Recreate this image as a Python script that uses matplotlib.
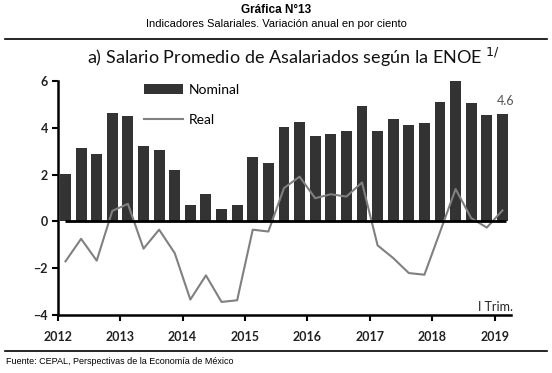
import matplotlib.pyplot as plt
from matplotlib.lines import Line2D
import numpy as np

years = ['2012', '2013', '2014', '2015', '2016', '2017', '2018', '2019']

# variacion anual trimestral, 2012 I - 2019 I
nominal = [2.04, 3.12, 2.87, 4.61,
           4.50, 3.22, 3.05, 2.18,
           0.68, 1.19, 0.55, 0.68,
           2.74, 2.50, 4.04, 4.24,
           3.66, 3.73, 3.87, 4.92,
           3.87, 4.37, 4.11, 4.18,
           5.11, 6.03, 5.05, 4.54,
           4.57]
real = [-1.70, -0.74, -1.67, 0.45,
        0.75, -1.16, -0.35, -1.35,
        -3.33, -2.30, -3.43, -3.36,
        -0.35, -0.43, 1.42, 1.91,
        0.99, 1.16, 1.06, 1.66,
        -1.02, -1.56, -2.20, -2.27,
        -0.45, 1.38, 0.14, -0.26,
        0.47]

narrow = ['Liberation Sans', 'DejaVu Sans']
main_font = ['Lato', 'DejaVu Sans']

fig = plt.figure(figsize=(5.52, 3.73), dpi=100)
ax = fig.add_axes([0.1045, 0.1547, 0.8207, 0.629])

x = np.arange(len(nominal))
bars = ax.bar(x, nominal, width=0.7, color='#333333', label='Nominal', zorder=2)
line, = ax.plot(x, real, color='#808080', lw=1.5, label='Real', zorder=3)
ax.hlines(0, x[0], x[-1] + 0.2, color='black', lw=2, zorder=4)

ax.set_xlim(-0.5, 28.53)
ax.set_ylim(-4, 6)
ax.set_yticks([-4, -2, 0, 2, 4, 6])
ax.set_xticks(np.arange(len(years)) * 4 - 0.5)
ax.set_xticklabels(years)
for lab in ax.get_xticklabels() + ax.get_yticklabels():
    lab.set_family(main_font)
    lab.set_fontweight('bold')
    lab.set_fontsize(9)
    lab.set_color('#222222')
ax.tick_params(axis='both', length=4, width=1.5, color='black', pad=3)
ax.tick_params(axis='x', pad=7)

for s in ['top', 'right']:
    ax.spines[s].set_visible(False)
for s in ['left', 'bottom']:
    ax.spines[s].set_linewidth(1.8)

ax.annotate('4.6', (x[-1], nominal[-1]), xytext=(2, 5), textcoords='offset points',
            ha='center', va='bottom', fontsize=9, color='#555555', family=main_font)
ax.text(1.005, 0.035, 'I Trim.', transform=ax.transAxes, ha='right', va='center',
        fontsize=9, color='#222222', family=main_font)

ax.legend([bars, line], ['Nominal', 'Real'], loc='upper left',
          bbox_to_anchor=(0.1905, 0.985), frameon=False,
          borderpad=0, borderaxespad=0, handlelength=2.8, handletextpad=0.45,
          labelspacing=1.25, prop={'family': main_font, 'size': 10})

fig.text(0.5, 1 - 10 / 373, 'Gráfica N°13', ha='center', va='center',
         fontsize=8.5, fontweight='bold', family=narrow)
fig.text(0.5, 1 - 24 / 373, 'Indicadores Salariales. Variación anual en por ciento',
         ha='center', va='center', fontsize=8, family=narrow)
fig.add_artist(Line2D([5 / 552, 547 / 552], [1 - 39 / 373, 1 - 39 / 373],
                      color='black', lw=1.2))
fig.text(293 / 552, 1 - 57 / 373, r'a) Salario Promedio de Asalariados según la ENOE $^{1/}$',
         ha='center', va='center', fontsize=13, family=main_font, color='#111111')
fig.add_artist(Line2D([5 / 552, 547 / 552], [1 - 351 / 373, 1 - 351 / 373],
                      color='black', lw=1.2))
fig.text(6 / 552, 1 - 362 / 373, 'Fuente: CEPAL, Perspectivas de la Economía de México',
         ha='left', va='center', fontsize=6.5, family=narrow)

fig.savefig('out.png', dpi=100)
